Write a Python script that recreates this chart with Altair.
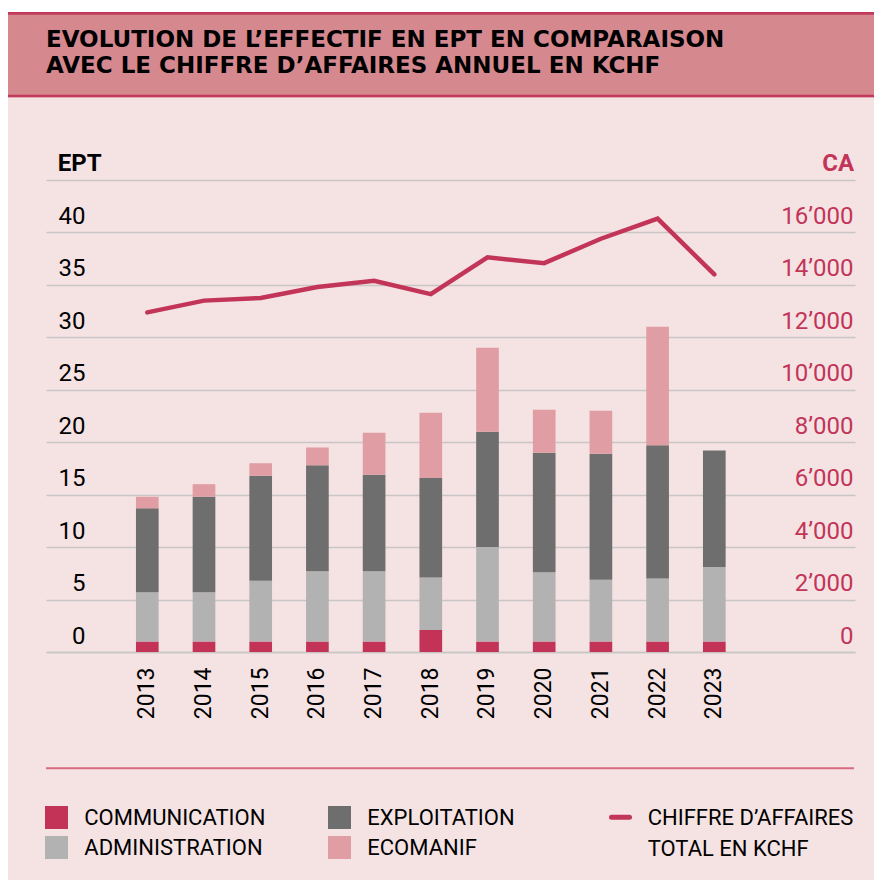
import altair as alt
import pandas as pd

# ---------------- data ----------------
years = ["2013", "2014", "2015", "2016", "2017", "2018", "2019", "2020", "2021", "2022", "2023"]
communication = [1.0, 1.0, 1.0, 1.0, 1.0, 2.1, 1.0, 1.0, 1.0, 1.0, 1.0]
administration = [4.7, 4.7, 5.8, 6.7, 6.7, 5.0, 9.0, 6.6, 5.9, 6.0, 7.1]
exploitation = [8.0, 9.1, 10.0, 10.1, 9.2, 9.5, 11.0, 11.4, 12.0, 12.7, 11.1]
ecomanif = [1.1, 1.2, 1.2, 1.7, 4.0, 6.2, 8.0, 4.1, 4.1, 11.3, 0.0]
chiffre_affaires = [12950, 13400, 13500, 13920, 14160, 13650, 15050, 14830, 15760, 16530, 14400]

series_names = ["COMMUNICATION", "ADMINISTRATION", "EXPLOITATION", "ECOMANIF"]
series_values = [communication, administration, exploitation, ecomanif]
series_colors = ["#C23357", "#B2B2B2", "#6E6E6E", "#E09DA3"]
line_label = ["CHIFFRE D’AFFAIRES", "TOTAL EN KCHF"]
title_lines = ["EVOLUTION DE L’EFFECTIF EN EPT EN COMPARAISON",
               "AVEC LE CHIFFRE D’AFFAIRES ANNUEL EN KCHF"]

# ---------------- styles ----------------
BG = "#F5E3E4"
HEADER = "#D6888F"
BORDER = "#C23A5B"
LINE_COLOR = "#C23558"
GRID = "#C9C5C5"
FONT = "Roboto"
W, H = 809, 472
RIGHT_PAD = 19

rows = []
for si, (name, vals) in enumerate(zip(series_names, series_values)):
    for y, v in zip(years, vals):
        rows.append({"year": y, "serie": name, "value": v, "ord": si})
long_df = pd.DataFrame(rows)
ca_df = pd.DataFrame({"year": years, "ca": chiffre_affaires})

# empty slots on both sides of the years leave the blank margins of the original
x_domain = [" "] + years + ["  "]
x_scale = alt.Scale(domain=x_domain, paddingInner=0.6, paddingOuter=0.934, align=0.314)

x_enc = alt.X("year:N", title=None, scale=x_scale,
              axis=alt.Axis(labelAngle=270, labelFont=FONT, labelFontSize=23, labelColor="black",
                            labelPadding=15, ticks=False, domain=True, domainColor=GRID,
                            domainWidth=1.5))

bars = alt.Chart(long_df).mark_bar().encode(
    x=x_enc,
    y=alt.Y("value:Q", stack="zero", title=None,
            scale=alt.Scale(domain=[0, 45], nice=False),
            axis=alt.Axis(values=list(range(0, 50, 5)),
                          labelExpr="datum.value == 45 ? '' : datum.label",
                          grid=True, gridColor=GRID, gridWidth=1.5, domain=False, ticks=False,
                          labelAlign="right", labelBaseline="alphabetic", labelPadding=-39,
                          labelOffset=-9, labelFont=FONT, labelFontSize=24, labelColor="black",
                          labelOverlap=False, labelBound=False)),
    color=alt.Color("serie:N", scale=alt.Scale(domain=series_names, range=series_colors), legend=None),
    order=alt.Order("ord:Q", sort="ascending"),
)

line = alt.Chart(ca_df).mark_line(color=LINE_COLOR, strokeWidth=4.5, strokeCap="round").encode(
    x=alt.X("year:N", title=None, scale=x_scale),
    y=alt.Y("ca:Q", title=None, scale=alt.Scale(domain=[0, 18000], nice=False),
            axis=alt.Axis(orient="right", values=list(range(0, 18000, 2000)),
                          labelExpr="replace(format(datum.value, ','), ',', '’')",
                          grid=False, domain=False, ticks=False, labelAlign="right",
                          labelBaseline="alphabetic", labelPadding=-2, labelOffset=-9,
                          labelFont=FONT, labelFontSize=24, labelColor=LINE_COLOR,
                          labelOverlap=False, labelBound=False)),
)

one = alt.Data(values=[{}])
deco = []

# white strip above the header
deco.append(alt.Chart(one).mark_rect(color="white").encode(
    x=alt.value(-38), x2=alt.value(W + RIGHT_PAD), y=alt.value(-172), y2=alt.value(-168)))
# header band
deco.append(alt.Chart(one).mark_rect(color=HEADER).encode(
    x=alt.value(-38), x2=alt.value(W + RIGHT_PAD), y=alt.value(-168), y2=alt.value(-82.7)))
for yy in (-166.7, -84.0):
    deco.append(alt.Chart(one).mark_rule(color=BORDER, strokeWidth=2.7).encode(
        x=alt.value(-38), x2=alt.value(W + RIGHT_PAD), y=alt.value(yy)))
# title
deco.append(alt.Chart(one).mark_text(align="left", baseline="alphabetic", font="DejaVu Sans",
                                     fontWeight="bold", fontSize=23, lineHeight=25.7,
                                     color="black").encode(
    x=alt.value(0), y=alt.value(-133), text=alt.value(title_lines)))
# axis titles
deco.append(alt.Chart(one).mark_text(align="left", baseline="alphabetic", font=FONT,
                                     fontWeight="bold", fontSize=24, color="black").encode(
    x=alt.value(11.7), y=alt.value(-9.3), text=alt.value("EPT")))
deco.append(alt.Chart(one).mark_text(align="right", baseline="alphabetic", font=FONT,
                                     fontWeight="bold", fontSize=24, color=LINE_COLOR).encode(
    x=alt.value(808), y=alt.value(-9.3), text=alt.value("CA")))
# separator
deco.append(alt.Chart(one).mark_rule(color="#D56B80", strokeWidth=2).encode(
    x=alt.value(0), x2=alt.value(808), y=alt.value(588.3)))

# legend
for i, (name, col) in enumerate(zip(series_names, series_colors)):
    c, r = divmod(i, 2)
    x0 = -1 + c * 283
    y0 = 626 + r * 30
    deco.append(alt.Chart(one).mark_rect(color=col).encode(
        x=alt.value(x0), x2=alt.value(x0 + 23), y=alt.value(y0), y2=alt.value(y0 + 23)))
    deco.append(alt.Chart(one).mark_text(align="left", baseline="alphabetic", font=FONT,
                                         fontSize=22, color="black").encode(
        x=alt.value(x0 + 39.3), y=alt.value(y0 + 19.3), text=alt.value(name)))
deco.append(alt.Chart(one).mark_rule(color=LINE_COLOR, strokeWidth=5, strokeCap="round").encode(
    x=alt.value(565.5), x2=alt.value(583.5), y=alt.value(637.3)))
deco.append(alt.Chart(one).mark_text(align="left", baseline="alphabetic", font=FONT,
                                     fontSize=22, lineHeight=30.7, color="black").encode(
    x=alt.value(601.7), y=alt.value(645.3), text=alt.value(line_label)))

chart = alt.layer(bars, line, *deco).resolve_scale(y="independent").properties(
    width=W, height=H,
    autosize=alt.AutoSizeParams(type="none"),
    padding={"left": 38, "top": 172, "right": RIGHT_PAD, "bottom": 228},
    background=BG,
).configure_view(stroke=None)

chart.save("out.html", embed_options={"renderer": "svg", "actions": False})
